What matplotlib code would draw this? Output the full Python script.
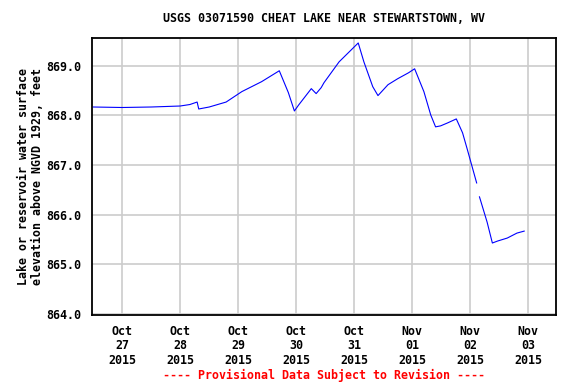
import matplotlib
matplotlib.use("Agg")
import matplotlib.pyplot as plt
import matplotlib.dates as mdates
import numpy as np
import pandas as pd

# gage height readings, NaN marks the data gap
times = pd.to_datetime([
    "2015-10-26 12:00", "2015-10-27 00:00", "2015-10-27 12:00", "2015-10-27 18:00",
    "2015-10-28 00:00", "2015-10-28 04:00", "2015-10-28 07:00", "2015-10-28 07:40",
    "2015-10-28 12:00", "2015-10-28 19:00", "2015-10-29 01:30", "2015-10-29 09:40",
    "2015-10-29 17:00", "2015-10-29 20:45", "2015-10-29 23:15", "2015-10-30 01:00",
    "2015-10-30 06:15", "2015-10-30 08:15", "2015-10-30 10:20", "2015-10-30 11:30",
    "2015-10-30 17:45", "2015-10-31 01:40", "2015-10-31 04:00", "2015-10-31 07:40",
    "2015-10-31 09:50", "2015-10-31 14:00", "2015-10-31 18:00", "2015-10-31 22:30",
    "2015-11-01 01:00", "2015-11-01 04:50", "2015-11-01 07:40", "2015-11-01 09:40",
    "2015-11-01 11:45", "2015-11-01 14:40", "2015-11-01 18:15", "2015-11-01 20:50",
    "2015-11-01 22:50", "2015-11-02 02:40", "2015-11-02 03:30", "2015-11-02 03:50",
    "2015-11-02 07:00", "2015-11-02 09:10", "2015-11-02 11:20", "2015-11-02 15:20",
    "2015-11-02 19:20", "2015-11-02 22:20",
])
stage = np.array([
    868.17, 868.16, 868.17, 868.18,
    868.19, 868.22, 868.27, 868.13,
    868.17, 868.27, 868.48, 868.68,
    868.90, 868.46, 868.09, 868.21,
    868.54, 868.44, 868.56, 868.66,
    869.08, 869.46, 869.08, 868.58,
    868.40, 868.62, 868.74, 868.86,
    868.94, 868.48, 868.01, 867.77,
    867.79, 867.85, 867.93, 867.65,
    867.31, 866.64, np.nan, 866.36,
    865.85, 865.43, 865.47, 865.53,
    865.63, 865.67,
])

tick_days = pd.date_range("2015-10-27", "2015-11-03", freq="D")
y_ticks = [864.0, 865.0, 866.0, 867.0, 868.0, 869.0]

fnt = dict(family="DejaVu Sans Mono", fontweight="bold", fontsize=8.4)

fig = plt.figure(figsize=(5.76, 3.84), dpi=100)
ax = fig.add_axes([92 / 576, 69 / 384, 464 / 576, 277 / 384])

ax.plot(times, stage, color="#0000ff", linewidth=0.8)

ax.set_xlim(pd.Timestamp("2015-10-26 11:30"), pd.Timestamp("2015-11-03 11:30"))
ax.set_ylim(863.98, 869.56)

ax.set_xticks(tick_days)
ax.set_xticklabels([d.strftime("%b\n%d\n%Y") for d in tick_days], linespacing=1.15, **fnt)
ax.set_yticks(y_ticks)
ax.set_yticklabels([f"{v:.1f}" for v in y_ticks], **fnt)
ax.tick_params(length=0, pad=8)
ax.tick_params(axis="x", pad=7)

ax.grid(True, color="#cccccc", linewidth=1.2)
ax.set_axisbelow(True)
for s in ax.spines.values():
    s.set_linewidth(1.3)
    s.set_color("black")

ax.set_ylabel("Lake or reservoir water surface\nelevation above NGVD 1929, feet",
              linespacing=1.1, labelpad=1.5, **fnt)

fig.text(324 / 576, 1 - 18 / 384, "USGS 03071590 CHEAT LAKE NEAR STEWARTSTOWN, WV",
         ha="center", va="center", **fnt)
fig.text(324 / 576, 1 - 375 / 384, "---- Provisional Data Subject to Revision ----",
         ha="center", va="center", color="red", **fnt)

fig.savefig("out.png", dpi=100)
